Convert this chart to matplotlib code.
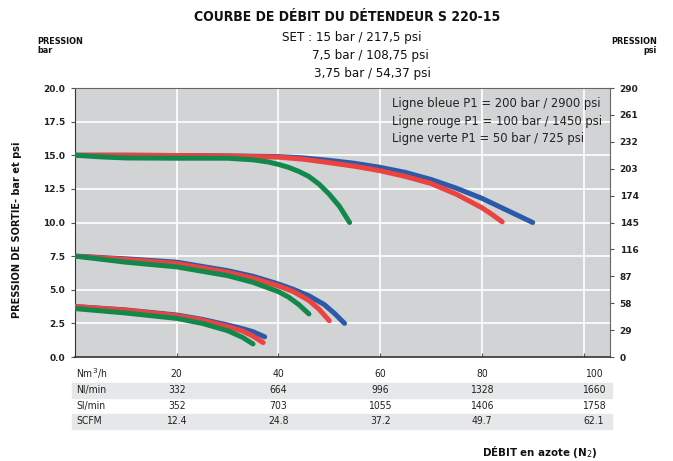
import numpy as np
import matplotlib.pyplot as plt
from matplotlib import transforms

NARROW = dict(family='DejaVu Sans', stretch='condensed')

# curves: flow (Nm3/h) vs outlet pressure (bar)
# set 15 bar
top_blue_x = [0, 10, 20, 30, 40, 45, 50, 55, 60, 65, 70, 75, 80, 85, 90]
top_blue_y = [15, 15, 14.98, 14.95, 14.9, 14.8, 14.62, 14.4, 14.1, 13.72, 13.2, 12.55, 11.8, 10.9, 10.0]
top_red_x = [0, 10, 20, 30, 40, 45, 50, 55, 60, 65, 70, 75, 80, 82, 84]
top_red_y = [15, 15, 14.98, 14.95, 14.86, 14.7, 14.45, 14.18, 13.85, 13.42, 12.9, 12.1, 11.1, 10.6, 10.05]
top_green_x = [0, 5, 10, 20, 30, 35, 38, 40, 42, 44, 46, 48, 50, 52, 54]
top_green_y = [15, 14.88, 14.8, 14.78, 14.78, 14.66, 14.5, 14.32, 14.1, 13.8, 13.42, 12.85, 12.1, 11.2, 10.0]
# set 7.5 bar
mid_blue_x = [0, 10, 20, 30, 35, 40, 43, 46, 49, 51, 53]
mid_blue_y = [7.5, 7.3, 7.05, 6.42, 6.0, 5.43, 5.02, 4.55, 3.9, 3.25, 2.5]
mid_red_x = [0, 10, 20, 30, 35, 40, 43, 46, 48, 50]
mid_red_y = [7.5, 7.25, 6.95, 6.3, 5.86, 5.28, 4.85, 4.2, 3.55, 2.7]
mid_green_x = [0, 10, 20, 30, 35, 40, 42, 44, 46]
mid_green_y = [7.5, 7.05, 6.7, 6.05, 5.55, 4.86, 4.45, 3.9, 3.2]
# set 3.75 bar
low_blue_x = [0, 10, 20, 25, 30, 33, 35, 37.3]
low_blue_y = [3.75, 3.5, 3.12, 2.8, 2.38, 2.1, 1.88, 1.5]
low_red_x = [0, 10, 20, 25, 30, 33, 35, 37]
low_red_y = [3.75, 3.48, 3.08, 2.74, 2.27, 1.92, 1.55, 1.07]
low_green_x = [0, 10, 20, 25, 30, 33, 35]
low_green_y = [3.6, 3.27, 2.87, 2.5, 1.96, 1.45, 0.97]

bar_ticks = [0, 2.5, 5, 7.5, 10, 12.5, 15, 17.5, 20]
psi_labels = ['0', '29', '58', '87', '116', '145', '174', '203', '232', '261', '290']

flow_cols = [20, 40, 60, 80, 102]
table_rows = [
    ('Nm$^3$/h', ['20', '40', '60', '80', '100']),
    ('Nl/min', ['332', '664', '996', '1328', '1660']),
    ('Sl/min', ['352', '703', '1055', '1406', '1758']),
    ('SCFM', ['12.4', '24.8', '37.2', '49.7', '62.1']),
]

blue = '#2b5ba8'
red = '#ec4341'
green = '#12894b'

fig = plt.figure(figsize=(6.73, 4.61), dpi=100)
ax = fig.add_axes([75 / 673, 1 - 357 / 461, 535 / 673, 269 / 461])
ax.set_facecolor('#d1d3d5')
ax.set_xlim(0, 105.2)
ax.set_ylim(0, 20)

for y in bar_ticks[1:-1]:
    ax.axhline(y, color='white', lw=1.2, zorder=1)
for x in [20, 40, 60, 80, 100]:
    ax.axvline(x, color='white', lw=1.2, zorder=1)

for xs, ys, c in [
    (top_blue_x, top_blue_y, blue), (top_red_x, top_red_y, red), (top_green_x, top_green_y, green),
    (mid_blue_x, mid_blue_y, blue), (mid_red_x, mid_red_y, red), (mid_green_x, mid_green_y, green),
    (low_blue_x, low_blue_y, blue), (low_red_x, low_red_y, red), (low_green_x, low_green_y, green),
]:
    ax.plot(xs, ys, color=c, lw=3.6, solid_capstyle='round', solid_joinstyle='round', zorder=3)

ax.set_yticks(bar_ticks)
ax.set_yticklabels(['%.1f' % v for v in bar_ticks], fontsize=6.5, fontweight='bold', color='#222')
ax.set_xticks([20, 40, 60, 80, 100])
ax.set_xticklabels([])
ax.tick_params(axis='x', length=3, color='#555', direction='in')
ax.tick_params(axis='y', length=3, color='#555', pad=4)
for s in ax.spines.values():
    s.set_color('#666')
    s.set_linewidth(0.8)
ax.spines['left'].set_color('#333')
ax.spines['bottom'].set_color('#333')
ax.spines['bottom'].set_linewidth(1.2)

ax2 = ax.twinx()
ax2.set_ylim(0, 290)
ax2.set_yticks([int(l) for l in psi_labels])
ax2.set_yticklabels(psi_labels, fontsize=6.5, fontweight='bold', color='#222')
ax2.tick_params(axis='y', length=3, color='#555', pad=4)
for s in ax2.spines.values():
    s.set_visible(False)

ax.text(0.592, 0.965, 'Ligne bleue P1 = 200 bar / 2900 psi\nLigne rouge P1 = 100 bar / 1450 psi\n'
        'Ligne verte P1 = 50 bar / 725 psi', transform=ax.transAxes, **NARROW,
        fontsize=9.3, color='#222', va='top', ha='left', linespacing=1.45, zorder=4)

# flow table under the axes
trans = transforms.blended_transform_factory(ax.transData, fig.transFigure)
row_y = [374, 390, 406, 421]
for i, (name, vals) in enumerate(table_rows):
    yf = 1 - row_y[i] / 461
    if i % 2 == 1:
        fig.patches.append(plt.Rectangle((72 / 673, yf - 7.5 / 461), 540 / 673, 15 / 461,
                                         transform=fig.transFigure, color='#e6e7e8', zorder=0))
    fig.text(76 / 673, yf, name, **NARROW, fontsize=7.5, va='center', ha='left', color='#222')
    for x, v in zip(flow_cols, vals):
        fig.text(x, yf, v, transform=trans, **NARROW, fontsize=7.5, va='center',
                 ha='center', color='#222')

fig.text(347 / 673, 1 - 17 / 461, 'COURBE DE DÉBIT DU DÉTENDEUR S 220-15', **NARROW,
         fontsize=10, fontweight='bold', ha='center', va='center', color='#111')
fig.text(352 / 673, 1 - 38 / 461, 'SET : 15 bar / 217,5 psi', **NARROW, fontsize=9.5,
         ha='center', va='center', color='#111')
fig.text(370 / 673, 1 - 56 / 461, '7,5 bar / 108,75 psi', **NARROW, fontsize=9.5,
         ha='center', va='center', color='#111')
fig.text(372 / 673, 1 - 73 / 461, '3,75 bar / 54,37 psi', **NARROW, fontsize=9.5,
         ha='center', va='center', color='#111')
fig.text(37 / 673, 1 - 46 / 461, 'PRESSION\nbar', **NARROW, fontsize=6.5, fontweight='bold',
         ha='left', va='center', linespacing=1.1, color='#111')
fig.text(657 / 673, 1 - 46 / 461, 'PRESSION\npsi', **NARROW, fontsize=6.5, fontweight='bold',
         ha='right', va='center', multialignment='right', linespacing=1.1, color='#111')
fig.text(17 / 673, 1 - 230 / 461, 'PRESSION DE SORTIE- bar et psi', **NARROW, fontsize=7.8,
         fontweight='bold', rotation=90, ha='center', va='center', color='#111')
fig.text(540 / 673, 1 - 452 / 461, 'DÉBIT en azote (N$_2$)', **NARROW, fontsize=8.2,
         fontweight='bold', ha='center', va='center', color='#111')

fig.savefig('out.png', dpi=100)
